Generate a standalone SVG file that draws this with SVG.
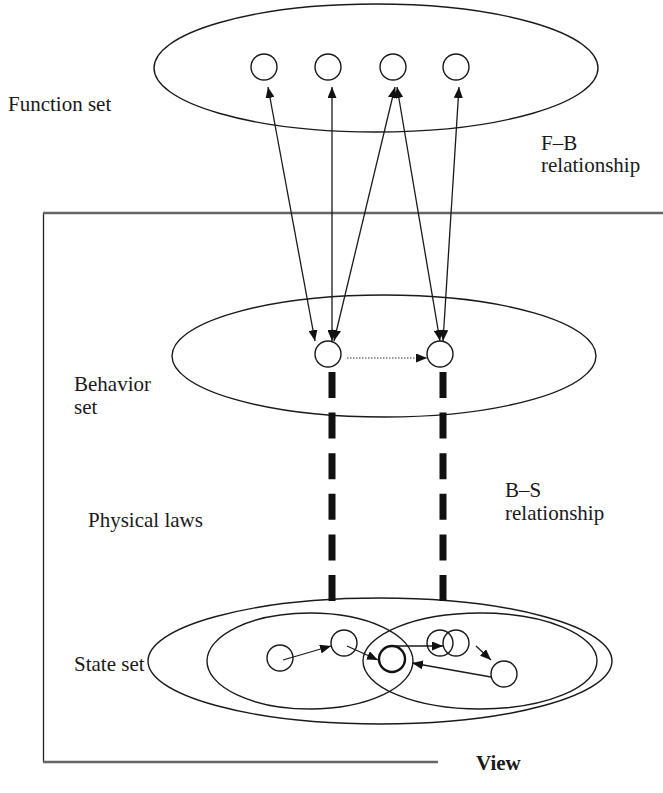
<svg xmlns="http://www.w3.org/2000/svg" width="663" height="793" viewBox="0 0 663 793">
  <style>
    .ell { fill: none; stroke: #1a1a1a; stroke-width: 1.4; }
    .node { fill: #fff; stroke: #1a1a1a; stroke-width: 1.4; }
    .bold { fill: #fff; stroke: #111; stroke-width: 2.4; }
    .lbl { font-family: "Liberation Serif", "Times New Roman", serif; font-size: 21px; fill: #1a1a1a; }
    .arr { fill: none; stroke: #1a1a1a; stroke-width: 1.3; }
    .frame { fill: none; stroke: #666; stroke-width: 2.5; }
  </style>
  <defs>
    <marker id="head" viewBox="0 0 11 9" refX="11" refY="4.5" markerWidth="11" markerHeight="9" markerUnits="userSpaceOnUse" orient="auto-start-reverse">
      <path d="M0,0 L11,4.5 L0,9 z" fill="#111"/>
    </marker>
  </defs>

  <!-- view frame -->
  <g id="view-frame">
    <line x1="43.5" y1="213" x2="43.5" y2="762" stroke="#222" stroke-width="1.3"/>
    <line class="frame" x1="43" y1="213" x2="663" y2="213"/>
    <line class="frame" x1="43" y1="762" x2="438" y2="762"/>
  </g>

  <!-- function set -->
  <g id="function-set">
    <ellipse class="ell" cx="376" cy="68" rx="222" ry="64"/>
    <circle class="node" cx="264" cy="67" r="13"/>
    <circle class="node" cx="328" cy="67" r="13"/>
    <circle class="node" cx="393" cy="67" r="13"/>
    <circle class="node" cx="456" cy="67" r="13"/>
  </g>

  <!-- behavior set -->
  <g id="behavior-set">
    <ellipse class="ell" cx="384" cy="356" rx="212" ry="61"/>
    <circle class="node" cx="328" cy="354" r="13"/>
    <circle class="node" cx="440" cy="354" r="13"/>
  </g>

  <!-- state set -->
  <g id="state-set">
    <ellipse class="ell" cx="380" cy="661" rx="232" ry="63"/>
    <ellipse class="ell" cx="310" cy="661" rx="103" ry="48"/>
    <ellipse class="ell" cx="480" cy="661" rx="117" ry="48"/>
    <circle class="node" cx="280" cy="658" r="13"/>
    <circle class="node" cx="344" cy="643" r="13"/>
    <circle class="bold" cx="392" cy="659" r="13"/>
    <circle class="node" cx="440" cy="643" r="13" fill="none" style="fill:none"/>
    <circle class="node" cx="456" cy="643" r="13" style="fill:none"/>
    <circle class="node" cx="504" cy="674" r="13"/>
  </g>

  <!-- connectors -->
  <g id="connectors">
    <!-- function / behavior relationships -->
    <line class="arr" x1="268" y1="87" x2="315" y2="341" marker-start="url(#head)" marker-end="url(#head)"/>
    <line class="arr" x1="332" y1="87" x2="332" y2="341" marker-start="url(#head)" marker-end="url(#head)"/>
    <line class="arr" x1="395" y1="87" x2="334" y2="341" marker-start="url(#head)" marker-end="url(#head)"/>
    <line class="arr" x1="397" y1="87" x2="440" y2="341" marker-start="url(#head)" marker-end="url(#head)"/>
    <line class="arr" x1="459" y1="87" x2="443" y2="341" marker-start="url(#head)" marker-end="url(#head)"/>
    <!-- behavior transition -->
    <line x1="347" y1="358" x2="427" y2="358" stroke="#333" stroke-width="1.2" stroke-dasharray="1.5 1.5" marker-end="url(#head)"/>
    <!-- physical laws links -->
    <line x1="332" y1="372" x2="332" y2="601" stroke="#111" stroke-width="7" stroke-dasharray="26 14.6"/>
    <line x1="443" y1="372" x2="443" y2="601" stroke="#111" stroke-width="7" stroke-dasharray="26 14.6"/>
    <!-- state transitions -->
    <line class="arr" x1="283" y1="660" x2="331" y2="646" marker-end="url(#head)"/>
    <line class="arr" x1="347" y1="646" x2="378" y2="660" marker-end="url(#head)"/>
    <line class="arr" x1="393" y1="646" x2="443" y2="646" marker-end="url(#head)"/>
    <line class="arr" x1="476" y1="646" x2="491" y2="660" marker-end="url(#head)"/>
    <line class="arr" x1="491" y1="677" x2="412" y2="663" marker-end="url(#head)"/>
  </g>

  <!-- labels -->
  <g id="labels">
    <text class="lbl" x="8" y="111">Function set</text>
    <text class="lbl" x="541" y="150">F–B</text>
    <text class="lbl" x="541" y="172">relationship</text>
    <text class="lbl" x="74" y="391">Behavior</text>
    <text class="lbl" x="74" y="414">set</text>
    <text class="lbl" x="505" y="497">B–S</text>
    <text class="lbl" x="505" y="520">relationship</text>
    <text class="lbl" x="88" y="527">Physical laws</text>
    <text class="lbl" x="74" y="671">State set</text>
    <text class="lbl" x="476" y="770" font-weight="bold" style="font-weight:bold">View</text>
  </g>
</svg>
